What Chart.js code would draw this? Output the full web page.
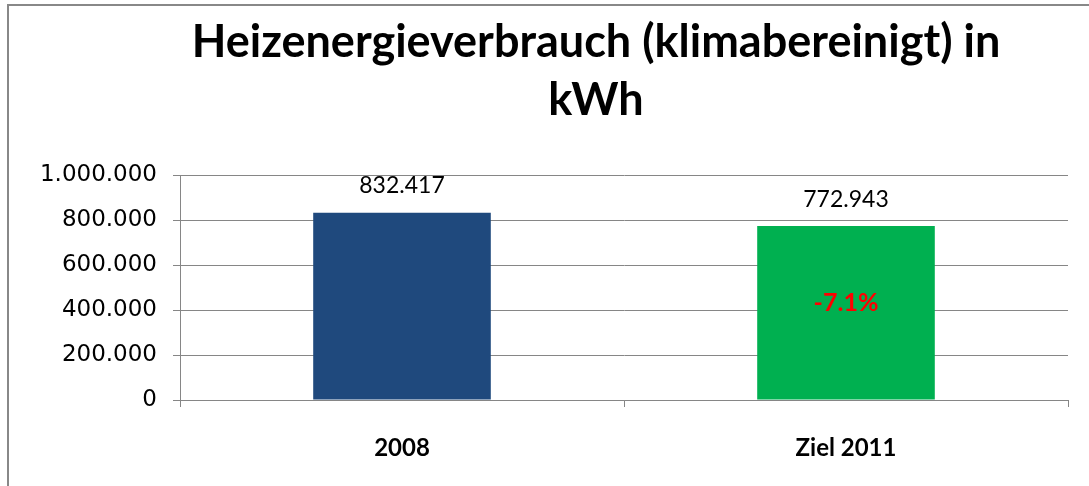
<!DOCTYPE html>
<html>
<head>
<meta charset="utf-8">
<script src="https://cdn.jsdelivr.net/npm/chart.js@4"></script>
<style>
  html, body { margin: 0; padding: 0; background: #fff; }
  canvas { display: block; }
</style>
</head>
<body>
<canvas id="chartHeizenergie" width="1089" height="486"></canvas>
<script>
// daten
const kategorien = ['2008', 'Ziel 2011'];
const verbrauch = [832417, 772943];
const farben = ['#1F497D', '#00B050'];
const hinweis = ['', '-7.1%'];
const titel = ['Heizenergieverbrauch (klimabereinigt) in', 'kWh'];

function formatDE(v) {
    return String(Math.round(v)).replace(/\B(?=(\d{3})+(?!\d))/g, '.');
}

// Rahmen + Titel (Titel wie im Original etwas rechts der Mitte)
const rahmen = {
    id: 'rahmen',
    beforeDraw(chart) {
        const { ctx, width, height } = chart;
        ctx.save();
        ctx.fillStyle = '#ffffff';
        ctx.fillRect(0, 0, width, height);
        ctx.strokeStyle = '#888888';
        ctx.lineWidth = 2;
        ctx.beginPath();
        ctx.moveTo(8, height);
        ctx.lineTo(8, 5);
        ctx.lineTo(width, 5);
        ctx.stroke();

        ctx.fillStyle = '#000000';
        ctx.font = 'bold 45px Lato';
        ctx.textAlign = 'center';
        ctx.textBaseline = 'middle';
        titel.forEach((zeile, i) => {
            ctx.fillText(zeile, 596, 42 + i * 58);
        });
        ctx.restore();
    }
};

// Werte über den Balken + Prozent im Balken
const werteLabels = {
    id: 'werteLabels',
    afterDatasetsDraw(chart) {
        const { ctx } = chart;
        const meta = chart.getDatasetMeta(0);
        ctx.save();
        ctx.textAlign = 'center';
        ctx.textBaseline = 'middle';
        meta.data.forEach((bar, i) => {
            ctx.fillStyle = '#000000';
            ctx.font = '23px Lato';
            ctx.fillText(formatDE(verbrauch[i]), bar.x, bar.y - 27);
            if (hinweis[i]) {
                ctx.fillStyle = '#FF0000';
                ctx.font = 'bold 25px Lato';
                ctx.fillText(hinweis[i], bar.x, (bar.y + bar.base) / 2 - 10);
            }
        });
        ctx.restore();
    }
};

const ctxEl = document.getElementById('chartHeizenergie');
new Chart(ctxEl, {
    type: 'bar',
    data: {
        labels: kategorien,
        datasets: [
            {
                label: 'Heizenergieverbrauch',
                data: verbrauch,
                backgroundColor: farben,
                categoryPercentage: 0.4,
                barPercentage: 1.0
            }
        ]
    },
    options: {
        responsive: false,
        animation: false,
        layout: { padding: { left: 0, right: 21, top: 175, bottom: 0 } },
        plugins: {
            legend: { display: false },
            tooltip: { enabled: false },
            title: { display: false }
        },
        scales: {
            x: {
                afterFit(scale) { scale.height = 86; },
                grid: {
                    offset: true,
                    drawOnChartArea: false,
                    drawTicks: true,
                    tickLength: 7,
                    color: '#868686'
                },
                border: { color: '#868686', width: 1 },
                ticks: {
                    color: '#000000',
                    padding: 27,
                    font: { family: 'Lato', size: 24, weight: 'bold' }
                }
            },
            y: {
                min: 0,
                max: 1000000,
                afterFit(scale) { scale.width = 180; },
                grid: {
                    color: '#868686',
                    tickLength: 7,
                    lineWidth: 1
                },
                border: { color: '#868686', width: 1 },
                ticks: {
                    stepSize: 200000,
                    color: '#000000',
                    padding: 16,
                    font: { family: 'DejaVu Sans', size: 23 },
                    callback: (v) => formatDE(v)
                }
            }
        }
    },
    plugins: [rahmen, werteLabels]
});
</script>
</body>
</html>
